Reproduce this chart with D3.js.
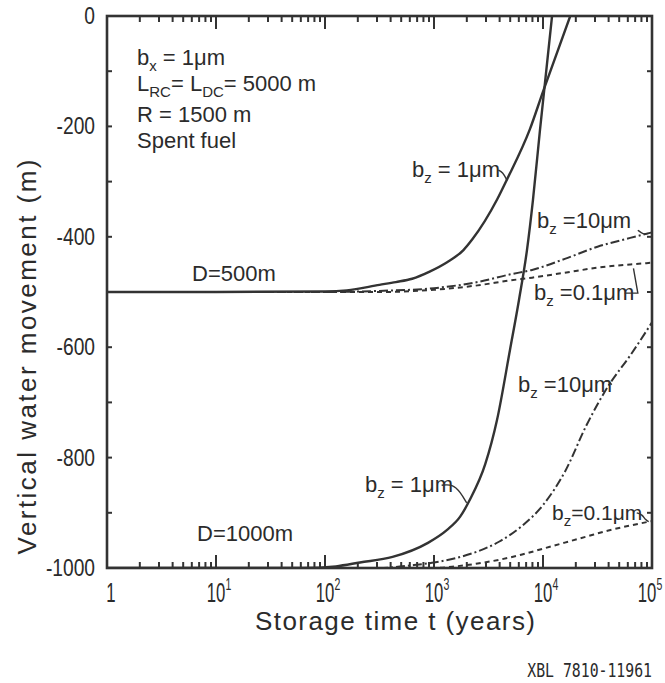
<!DOCTYPE html>
<html>
<head>
<script src="https://cdn.jsdelivr.net/npm/d3@7"></script>
<style>
body { margin: 0; background: #fff; }
text { font-family: "Liberation Sans", Arial, sans-serif; fill: #2b2b2b; }
</style>
</head>
<body>
<svg width="665" height="683"></svg>
<script>
// curves: exponent of t (years) and water movement (m)
const e500_b1   = [0, 1, 2, 2.2, 2.5, 2.65, 2.8, 2.96, 3.12, 3.27, 3.35, 3.58, 3.67, 3.88, 4.0, 4.25];
const v500_b1   = [-500, -500, -499, -497, -487, -482, -476, -463, -446, -424, -405, -332, -296, -205, -137, 0];
const e500_b10  = [0, 2.0, 2.5, 3.0, 3.4, 3.7, 3.9, 4.2, 4.5, 4.8, 5.0];
const v500_b10  = [-500, -500, -498, -493, -482, -468, -460, -440, -418, -402, -392];
const e500_b01  = [0, 2.5, 3.0, 3.4, 3.7, 3.9, 4.2, 4.5, 4.8, 5.0];
const v500_b01  = [-500, -500, -496, -488, -479, -474, -465, -456, -450, -447];
const e1000_b1  = [0, 1.8, 2.1, 2.32, 2.62, 2.94, 3.12, 3.24, 3.33, 3.47, 3.578, 3.697, 3.78, 3.853, 3.908, 3.972, 4.083];
const v1000_b1  = [-1000, -1000, -997, -990, -980, -955, -931, -907, -876, -812, -732, -605, -514, -424, -333, -207, 0];
const e1000_b10 = [0, 2.5, 2.8, 3.0, 3.2, 3.4, 3.6, 3.8, 4.0, 4.2, 4.4, 4.6, 4.8, 5.0];
const v1000_b10 = [-1000, -1000, -995, -990, -982, -970, -952, -925, -886, -826, -741, -670, -615, -555];
const e1000_b01 = [0, 3.0, 3.2, 3.4, 3.6, 3.8, 4.0, 4.2, 4.4, 4.6, 4.8, 5.0];
const v1000_b01 = [-1000, -1000, -997, -992, -985, -976, -965, -954, -943, -932, -923, -915];

const xDecades = [0, 1, 2, 3, 4, 5];
const xTickBase = ["1", "10", "10", "10", "10", "10"];
const xTickSup = ["", "1", "2", "3", "4", "5"];
const yTicks = [0, -200, -400, -600, -800, -1000];

const ink = "#333333";
const svg = d3.select("svg");
const x = d3.scaleLog().domain([1, 1e5]).range([107, 652]);
const y = d3.scaleLinear().domain([-1000, 0]).range([568, 16]);

const majorT = [10, 100, 1000, 10000];
const minorT = [];
for (let e = 0; e < 5; e++) for (let k = 2; k <= 9; k++) minorT.push(k * Math.pow(10, e));
const yMinor = d3.range(-900, 0, 100);

// inward ticks on all four sides
function tick(x1, y1, x2, y2) {
  svg.append("line").attr("x1", x1).attr("y1", y1).attr("x2", x2).attr("y2", y2)
    .attr("stroke", ink).attr("stroke-width", 2);
}
minorT.forEach(t => {
  tick(x(t), y(-1000), x(t), y(-1000) - 6);
  tick(x(t), y(0), x(t), y(0) + 6);
});
majorT.forEach(t => {
  tick(x(t), y(-1000), x(t), y(-1000) - 13);
  tick(x(t), y(0), x(t), y(0) + 13);
});
yMinor.forEach(v => {
  tick(x(1), y(v), x(1) + 5, y(v));
  tick(x(1e5), y(v), x(1e5) - 5, y(v));
});

svg.append("rect")
  .attr("x", x(1)).attr("y", y(0))
  .attr("width", x(1e5) - x(1)).attr("height", y(-1000) - y(0))
  .attr("fill", "none").attr("stroke", ink).attr("stroke-width", 2.6);

// tick labels (condensed lettering)
yTicks.forEach(v => {
  svg.append("text")
    .attr("transform", `translate(95,${y(v) + 8}) scale(0.8,1)`)
    .attr("text-anchor", "end").style("font-size", "24px")
    .text(v);
});
xDecades.forEach((e, i) => {
  const shift = i === 0 ? 4 : (i === 5 ? -2 : 3);
  const t = svg.append("text")
    .attr("transform", `translate(${x(Math.pow(10, e)) + shift},602) scale(0.62,1)`)
    .attr("text-anchor", "middle").style("font-size", "27px");
  t.append("tspan").text(xTickBase[i]);
  if (xTickSup[i]) t.append("tspan").attr("dy", -12).style("font-size", "17px").text(xTickSup[i]);
});

svg.append("text")
  .attr("x", 255).attr("y", 630)
  .attr("textLength", 280).attr("lengthAdjust", "spacing")
  .style("font-size", "26px")
  .text("Storage  time  t  (years)");

svg.append("text")
  .attr("transform", "translate(36,357) rotate(-90)")
  .attr("text-anchor", "middle")
  .attr("textLength", 395).attr("lengthAdjust", "spacing")
  .style("font-size", "26px")
  .text("Vertical  water  movement  (m)");

svg.append("text")
  .attr("transform", "translate(652,677) scale(0.78,1)")
  .attr("text-anchor", "end")
  .style("font-family", "'DejaVu Sans Mono', monospace").style("font-size", "19px")
  .text("XBL 7810-11961");

// curves
svg.append("clipPath").attr("id", "plot").append("rect")
  .attr("x", x(1)).attr("y", y(0))
  .attr("width", x(1e5) - x(1)).attr("height", y(-1000) - y(0));

const series = [
  { e: e500_b1, v: v500_b1, dash: null },
  { e: e500_b10, v: v500_b10, dash: "9 3 2 3" },
  { e: e500_b01, v: v500_b01, dash: "5 4" },
  { e: e1000_b1, v: v1000_b1, dash: null },
  { e: e1000_b10, v: v1000_b10, dash: "9 3 2 3" },
  { e: e1000_b01, v: v1000_b01, dash: "5 4" }
];
const curveLine = d3.line().x(d => x(d.t)).y(d => y(d.v)).curve(d3.curveMonotoneX);

const curves = svg.append("g").attr("clip-path", "url(#plot)");
series.forEach(s => {
  const pts = s.e.map((e, i) => ({ t: Math.pow(10, e), v: s.v[i] }));
  curves.append("path").datum(pts)
    .attr("d", curveLine)
    .attr("fill", "none").attr("stroke", ink)
    .attr("stroke-width", s.dash ? 2 : 2.4)
    .attr("stroke-dasharray", s.dash);
});

// text annotations
function label(px, py, parts, size) {
  const t = svg.append("text").attr("x", px).attr("y", py).style("font-size", (size || 22) + "px");
  parts.forEach(p => {
    if (p.sub) t.append("tspan").attr("dy", 6).style("font-size", "15px").text(p.sub);
    else t.append("tspan").attr("dy", p.up ? -6 : 0).text(p.s);
  });
}
label(137, 65, [{ s: "b" }, { sub: "x" }, { s: "  = 1\u03bcm", up: true }]);
label(137, 91, [{ s: "L" }, { sub: "RC" }, { s: "= L", up: true }, { sub: "DC" }, { s: "= 5000 m", up: true }]);
label(137, 122, [{ s: "R = 1500 m" }]);
label(137, 148, [{ s: "Spent fuel" }]);
label(192, 281, [{ s: "D=500m" }]);
label(197, 541, [{ s: "D=1000m" }]);
label(412, 177, [{ s: "b" }, { sub: "z" }, { s: " = 1\u03bcm", up: true }]);
label(537, 228, [{ s: "b" }, { sub: "z" }, { s: " =10\u03bcm", up: true }]);
label(534, 300, [{ s: "b" }, { sub: "z" }, { s: " =0.1\u03bcm", up: true }]);
label(518, 392, [{ s: "b" }, { sub: "z" }, { s: " =10\u03bcm", up: true }]);
label(365, 492, [{ s: "b" }, { sub: "z" }, { s: " = 1\u03bcm", up: true }]);
label(552, 520, [{ s: "b" }, { sub: "z" }, { s: "=0.1\u03bcm", up: true }], 21);

// leader hooks from labels to curves, in data coordinates
const hooks = [
  [[3.59, -279], [3.63, -283], [3.665, -296]],
  [[4.87, -388], [4.92, -396], [4.96, -394]],
  [[4.75, -502], [4.87, -502], [4.83, -457]],
  [[4.57, -662], [4.6, -660], [4.63, -668]],
  [[3.07, -850], [3.17, -848], [3.24, -862], [3.30, -882]],
  [[4.86, -900], [4.91, -903], [4.94, -913], [4.97, -916]]
];
const hookLine = d3.line().x(d => x(Math.pow(10, d[0]))).y(d => y(d[1]));
hooks.forEach((h, i) => {
  svg.append("path").datum(h)
    .attr("d", i === 2 ? hookLine.curve(d3.curveLinear)(h) : hookLine.curve(d3.curveBasis)(h))
    .attr("fill", "none").attr("stroke", ink).attr("stroke-width", 1.4);
});
</script>
</body>
</html>
